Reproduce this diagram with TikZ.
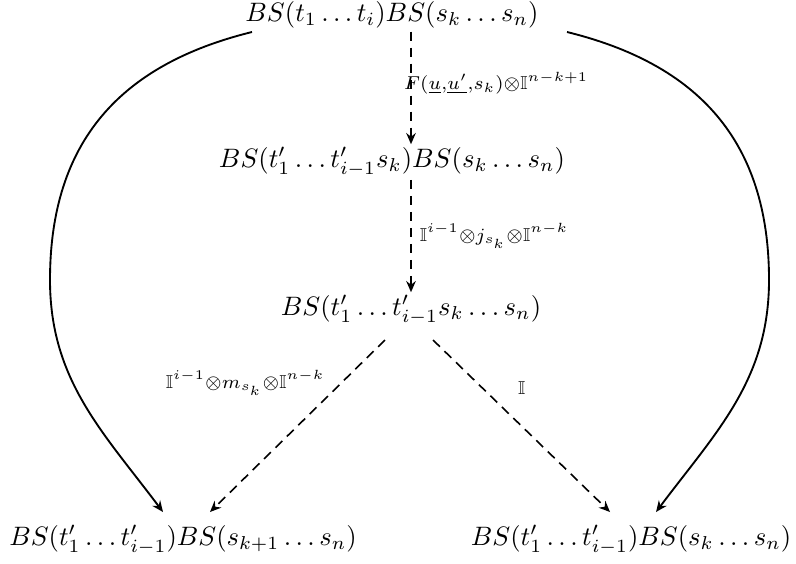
\documentclass[tikz,border=0pt]{standalone}
\usepackage{amssymb}
\usetikzlibrary{arrows.meta,calc}
\begin{document}
\begin{tikzpicture}[x=0.375pt,y=-0.375pt,
  obj/.style={inner sep=1pt},
  lab/.style={inner sep=0pt},
  tip/.style={-{Stealth[length=4.2pt,width=3.6pt,inset=1.4pt]}},
  dsh/.style={tip, line width=0.6pt, dash pattern=on 3.6pt off 2.4pt},
  crv/.style={tip, line width=0.7pt}]
\useasboundingbox (0,0) rectangle (796,563);
\node[obj] (top) at (392,15) {$BS(t_1\ldots t_i)BS(s_k\ldots s_n)$};
\node[obj] (m1) at (392,162) {$BS(t'_1\ldots t'_{i-1}s_k)BS(s_k\ldots s_n)$};
\node[obj] (m2) at (411,310) {$BS(t'_1\ldots t'_{i-1}s_k\ldots s_n)$};
\node[obj] (bl) at (183,540) {$BS(t'_1\ldots t'_{i-1})BS(s_{k+1}\ldots s_n)$};
\node[obj] (br) at (631,540) {$BS(t'_1\ldots t'_{i-1})BS(s_k\ldots s_n)$};
\draw[dsh] (top.south -| m2.center) -- (m1.north -| m2.center)
  node[lab, pos=0.46, anchor=west, xshift=-3pt] {$\scriptstyle F(\underline{u},\underline{u'},s_k)\otimes\mathbb{I}^{n-k+1}$};
\draw[dsh] (m1.south -| m2.center) -- (m2.north)
  node[lab, pos=0.5, anchor=west, xshift=3pt] {$\scriptstyle \mathbb{I}^{i-1}\otimes j_{s_k}\otimes\mathbb{I}^{n-k}$};
\draw[dsh] ($(m2.center)+(-26,30)$) -- ($(bl.center)+(27,-28)$)
  node[lab, pos=0.25, anchor=east, xshift=-6pt] {$\scriptstyle \mathbb{I}^{i-1}\otimes m_{s_k}\otimes\mathbb{I}^{n-k}$};
\draw[dsh] ($(m2.center)+(22,30)$) -- ($(br.center)+(-21,-28)$)
  node[lab, pos=0.28, anchor=west, xshift=13pt] {$\scriptstyle \mathbb{I}$};
\draw[crv] ($(top.center)+(-140,17)$) .. controls (122,64) and (50,140) .. (50,280)
  .. controls (50,380) and (103,432) .. ($(bl.center)+(-20,-28)$);
\draw[crv] ($(top.center)+(175,17)$) .. controls (697,64) and (769,140) .. (769,280)
  .. controls (769,380) and (716,432) .. ($(br.center)+(25,-28)$);
\end{tikzpicture}
\end{document}
